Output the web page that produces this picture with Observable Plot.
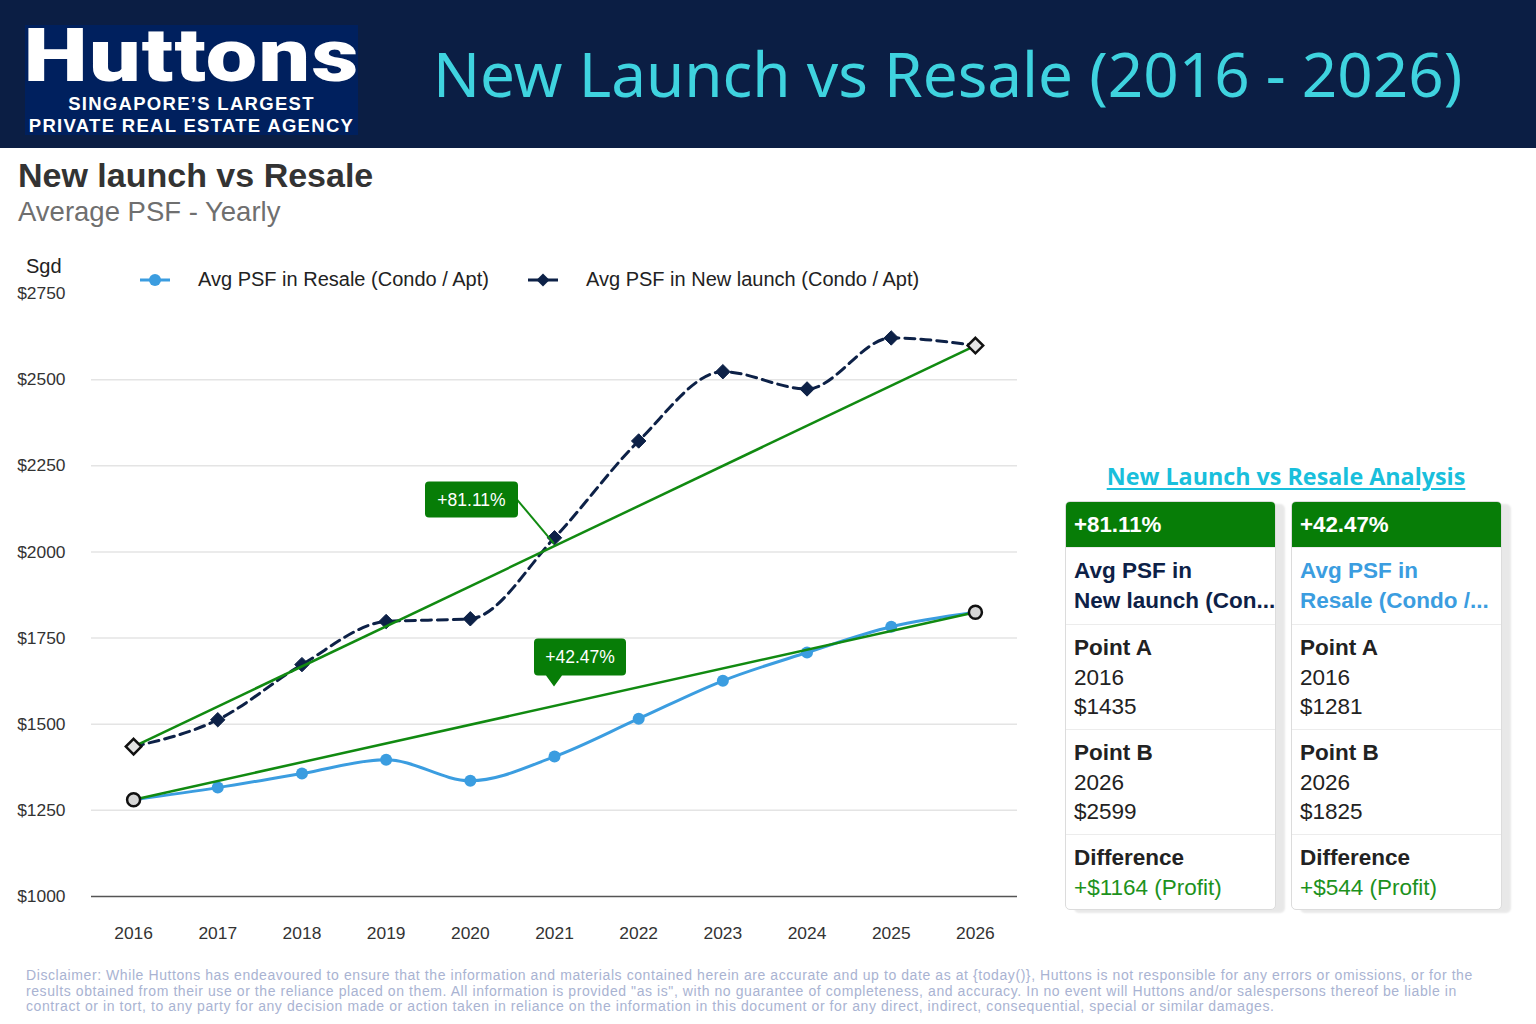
<!DOCTYPE html>
<html>
<head>
<meta charset="utf-8">
<script src="https://cdn.jsdelivr.net/npm/d3@7"></script>
<script src="https://cdn.jsdelivr.net/npm/@observablehq/plot@0.6"></script>
<style>
  body { margin: 0; width: 1536px; height: 1024px; position: relative; overflow: hidden; background: #fff;
         font-family: "Liberation Sans", Arial, sans-serif; }
  .abs { position: absolute; }
  #header { left: 0; top: 0; width: 1536px; height: 148px; background: #0b1e44; }
  #logo { left: 25px; top: 25px; width: 333px; height: 110px; background: #00205e; }
  #logo .name { position: absolute; left: 0; top: -5px; width: 333px; height: 70px; line-height: 70px; text-align: center; color: #fff;
                font-family: Roboto, "Liberation Sans", sans-serif; font-weight: 900; font-size: 75px; letter-spacing: 1px;
                transform: scaleX(1.22); transform-origin: 50% 50%; }
  #logo .tag { position: absolute; left: 0; width: 333px; height: 20px; line-height: 20px; text-align: center; color: #fff; font-weight: bold;
               font-size: 18.5px; letter-spacing: 1.3px; white-space: nowrap; }
  #headtitle { left: 433px; top: 31px; color: #3fd3df; font-family: "Noto Sans", "Open Sans", sans-serif; font-size: 62px; white-space: nowrap; }
  #ctitle { left: 18px; top: 156px; font-size: 34px; font-weight: bold; color: #333; }
  #csub { left: 18px; top: 196px; font-size: 27.5px; color: #6f6f6f; }
  #sgd { left: 26px; top: 255px; font-size: 20px; color: #222; }
  .leg { top: 268px; font-size: 20px; color: #222; white-space: nowrap; display: flex; align-items: center; }
  .leg svg { margin-right: 27px; }
  #chart { left: 0; top: 250px; }
  #chart svg [aria-label="y-axis tick label"] text, #chart svg [aria-label="x-axis tick label"] text { fill: #333; }
  #atitle { left: 1066px; top: 460px; width: 440px; text-align: center; font-family: "Open Sans", "Noto Sans", sans-serif;
            font-weight: bold; font-size: 23.3px; color: #19bfdc; text-decoration: underline; text-underline-offset: 3px; }
  .card { width: 211px; height: 409px; top: 501px; background: #fff; border: 1px solid #dcdcdc; border-radius: 5px;
          box-sizing: border-box; overflow: hidden; box-shadow: 9px 3px 2px rgba(0,0,0,0.09); }
  .card .hd { height: 45px; background: #077d07; color: #fff; font-weight: bold; font-size: 22.3px; line-height: 45px; padding-left: 8px; }
  .card .sec { box-sizing: border-box; padding: 8px 0 0 8px; font-size: 22.5px; line-height: 29.5px; color: #222;
               border-top: 1px solid #ececec; white-space: nowrap; }
  .card .sec:first-of-type { border-top: none; padding-top: 9px; }
  .card b { font-weight: bold; }
  .profit { color: #1d921d; }
  #disc { left: 26px; top: 968px; width: 1480px; font-size: 14px; line-height: 15.6px; color: #a9b3d2; white-space: nowrap; letter-spacing: 0.58px; }
</style>
</head>
<body>
<div id="header" class="abs"></div>
<div id="logo" class="abs">
  <div class="name">Huttons</div>
  <div class="tag" style="top:69px">SINGAPORE’S LARGEST</div>
  <div class="tag" style="top:91px">PRIVATE REAL ESTATE AGENCY</div>
</div>
<div id="headtitle" class="abs">New Launch vs Resale (2016 - 2026)</div>

<div id="ctitle" class="abs">New launch vs Resale</div>
<div id="csub" class="abs">Average PSF - Yearly</div>
<div id="chart" class="abs"></div>
<div id="sgd" class="abs">Sgd</div>
<div id="legend"></div>

<div id="atitle" class="abs">New Launch vs Resale Analysis</div>
<div id="cards"></div>

<div id="disc" class="abs">Disclaimer: While Huttons has endeavoured to ensure that the information and materials contained herein are accurate and up to date as at {today()}, Huttons is not responsible for any errors or omissions, or for the<br>results obtained from their use or the reliance placed on them. All information is provided "as is", with no guarantee of completeness, and accuracy. In no event will Huttons and/or salespersons thereof be liable in<br>contract or in tort, to any party for any decision made or action taken in reliance on the information in this document or for any direct, indirect, consequential, special or similar damages.</div>

<script>
// Yearly average PSF (SGD), condo / apartment
const years = [2016, 2017, 2018, 2019, 2020, 2021, 2022, 2023, 2024, 2025, 2026];
const resalePsf = [1281, 1316, 1357, 1397, 1336, 1406, 1516, 1626, 1708, 1783, 1825];
const newLaunchPsf = [1435, 1513, 1673, 1798, 1806, 2041, 2322, 2523, 2473, 2621, 2599];
const yTicks = [1000, 1250, 1500, 1750, 2000, 2250, 2500, 2750];
const seriesNames = ["Avg PSF in Resale (Condo / Apt)", "Avg PSF in New launch (Condo / Apt)"];

const navy = "#0d2147", blue = "#3b9de0", green = "#118a11", boxGreen = "#077d07";

const resale = years.map((year, i) => ({year, psf: resalePsf[i]}));
const newLaunch = years.map((year, i) => ({year, psf: newLaunchPsf[i]}));
const ends = arr => [arr[0], arr[arr.length - 1]];

// Point A → Point B trend for each series
function trend(arr) {
  const [a, b] = ends(arr);
  return {a, b, pct: (b.psf / a.psf - 1) * 100, diff: b.psf - a.psf,
          midYear: (a.year + b.year) / 2, midPsf: (a.psf + b.psf) / 2};
}
const tNew = trend(newLaunch), tResale = trend(resale);
const pctText = t => "+" + t.pct.toFixed(2) + "%";

// Green callouts at the middle of each trend line
function callouts(index, {x, y}) {
  const g = d3.create("svg:g").attr("font-family", "Liberation Sans, Arial, sans-serif");
  // New launch: boxed label with a leader line
  {
    const px = x(tNew.midYear), py = y(tNew.midPsf);
    g.append("line").attr("x1", px - 37).attr("y1", py - 46).attr("x2", px).attr("y2", py - 2)
      .attr("stroke", green).attr("stroke-width", 2);
    g.append("rect").attr("x", px - 129).attr("y", py - 64).attr("width", 93).attr("height", 36)
      .attr("rx", 4).attr("fill", boxGreen);
    g.append("text").attr("x", px - 82.5).attr("y", py - 46).attr("dy", "0.35em").attr("text-anchor", "middle")
      .attr("fill", "#fff").attr("font-size", 17.5).text(pctText(tNew));
  }
  // Resale: callout with a downward pointer
  {
    const px = x(tResale.midYear), py = y(tResale.midPsf);
    const l = px - 20, r = px + 72, t = py - 67, b = py - 30, rad = 4;
    const d = `M${l + rad},${t}H${r - rad}Q${r},${t} ${r},${t + rad}V${b - rad}Q${r},${b} ${r - rad},${b}` +
              `H${px + 8}L${px},${py - 19}L${px - 8},${b}H${l + rad}Q${l},${b} ${l},${b - rad}V${t + rad}Q${l},${t} ${l + rad},${t}Z`;
    g.append("path").attr("d", d).attr("fill", boxGreen);
    g.append("text").attr("x", (l + r) / 2).attr("y", (t + b) / 2).attr("dy", "0.35em").attr("text-anchor", "middle")
      .attr("fill", "#fff").attr("font-size", 17.5).text(pctText(tResale));
  }
  return g.node();
}

const chart = Plot.plot({
  width: 1040,
  height: 720,
  marginTop: 43,
  marginBottom: 74,
  marginLeft: 91,
  marginRight: 23,
  style: {background: "transparent", fontFamily: "Liberation Sans, Arial, sans-serif", color: "#333"},
  x: {domain: [2015.5, 2026.5], label: null},
  y: {domain: [1000, 2750], label: null},
  marks: [
    Plot.ruleY(yTicks.filter(d => d > 1000 && d < 2750), {stroke: "#e4e4e4", strokeWidth: 1.5}),
    Plot.ruleY([1000], {stroke: "#555", strokeWidth: 1.5}),
    Plot.axisY({ticks: yTicks, tickSize: 0, tickPadding: 26, fontSize: 17.4, tickFormat: d => "$" + d}),
    Plot.axisX({ticks: years, tickSize: 0, tickPadding: 30, fontSize: 17.4, tickFormat: d => String(d)}),
    Plot.line(newLaunch, {x: "year", y: "psf", curve: "monotone-x", stroke: navy, strokeWidth: 3, strokeDasharray: "10,6"}),
    Plot.line(resale, {x: "year", y: "psf", curve: "monotone-x", stroke: blue, strokeWidth: 3}),
    Plot.dot(resale.slice(1, -1), {x: "year", y: "psf", r: 6, fill: blue}),
    Plot.dot(newLaunch.slice(1, -1), {x: "year", y: "psf", r: 6.5, symbol: "diamond2", fill: navy, stroke: navy, strokeWidth: 1}),
    Plot.link([tNew, tResale], {x1: d => d.a.year, y1: d => d.a.psf, x2: d => d.b.year, y2: d => d.b.psf, stroke: green, strokeWidth: 2.5}),
    Plot.dot(ends(resale), {x: "year", y: "psf", r: 6.5, fill: "#d6d6d6", stroke: "#111", strokeWidth: 2.5}),
    Plot.dot(ends(newLaunch), {x: "year", y: "psf", r: 7, symbol: "diamond2", fill: "#e4e4e4", stroke: "#111", strokeWidth: 2.5}),
    callouts
  ]
});
document.getElementById("chart").appendChild(chart);

// Legend
const legend = document.getElementById("legend");
[{name: seriesNames[0], color: blue, sym: "circle", left: 139},
 {name: seriesNames[1], color: navy, sym: "diamond", left: 527}].forEach(s => {
  const div = document.createElement("div");
  div.className = "abs leg";
  div.style.left = s.left + "px";
  const shape = s.sym === "circle"
    ? `<circle cx="16" cy="8" r="6" fill="${s.color}"/>`
    : `<path d="M16,1.5L22.5,8L16,14.5L9.5,8Z" fill="${s.color}"/>`;
  div.innerHTML = `<svg width="32" height="16"><line x1="1" y1="8" x2="31" y2="8" stroke="${s.color}" stroke-width="3"/>${shape}</svg><span>${s.name}</span>`;
  legend.appendChild(div);
});

// Analysis cards
const cards = document.getElementById("cards");
[{t: tNew, lines: ["Avg PSF in", "New launch (Con..."], color: navy, left: 1065},
 {t: tResale, lines: ["Avg PSF in", "Resale (Condo /..."], color: blue, left: 1291}].forEach(c => {
  const div = document.createElement("div");
  div.className = "abs card";
  div.style.left = c.left + "px";
  div.innerHTML =
    `<div class="hd">${pctText(c.t)}</div>` +
    `<div class="sec" style="height:77px;color:${c.color}"><b>${c.lines[0]}</b><br><b>${c.lines[1]}</b></div>` +
    `<div class="sec" style="height:105px"><b>Point A</b><br>${c.t.a.year}<br>$${c.t.a.psf}</div>` +
    `<div class="sec" style="height:105px"><b>Point B</b><br>${c.t.b.year}<br>$${c.t.b.psf}</div>` +
    `<div class="sec" style="height:77px"><b>Difference</b><br><span class="profit">+$${c.t.diff} (Profit)</span></div>`;
  cards.appendChild(div);
});
</script>
</body>
</html>
